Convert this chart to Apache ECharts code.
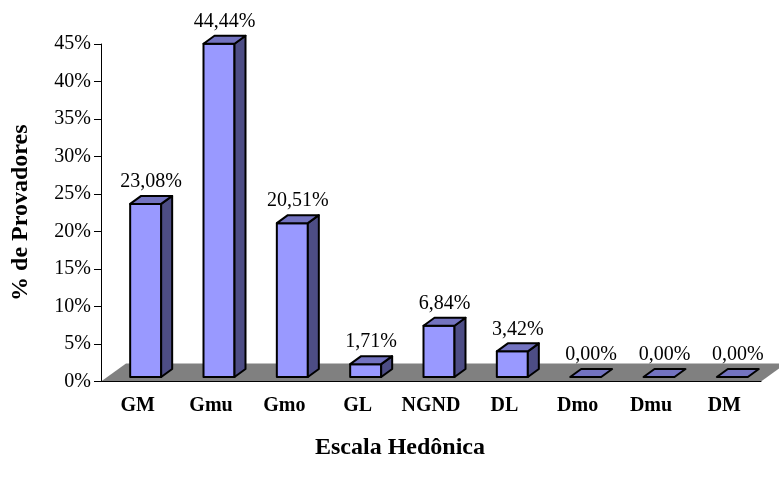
<!DOCTYPE html>
<html><head><meta charset="utf-8">
<script src="https://cdn.jsdelivr.net/npm/echarts@6/dist/echarts.min.js"></script>
<style>html,body{margin:0;padding:0;background:#fff}#c{width:779px;height:483px}</style>
</head><body><div id="c"></div>
<script>
const categories = ['GM','Gmu','Gmo','GL','NGND','DL','Dmo','Dmu','DM'];
const values = [23.08, 44.44, 20.51, 1.71, 6.84, 3.42, 0.00, 0.00, 0.00];
const yTicks = [0,5,10,15,20,25,30,35,40,45];

const FONT = '"Liberation Serif","Times New Roman",serif';
// pseudo-3D geometry (pixels)
const OX = 8, OY = -4.5;     // bar front-plane offset from axis plane
const BW = 31;               // bar front width
const DX = 11, DY = -8;      // bar depth
const FDX = 25, FDY = -18;   // floor depth

const chart = echarts.init(document.getElementById('c'));
function fmt(v){ return v.toFixed(2).replace('.', ',') + '%'; }

chart.setOption({
  animation: false,
  grid: {left: 101, right: 18, top: 44, bottom: 101.5},
  xAxis: {
    type: 'category', data: categories, boundaryGap: true,
    axisLine: {lineStyle: {color: '#000', width: 1}},
    axisTick: {length: 6, interval: 0, lineStyle: {color: '#000'}},
    axisLabel: {color: '#000', fontFamily: FONT, fontWeight: 'bold', fontSize: 20, margin: 14, interval: 0},
    z: 10
  },
  yAxis: {
    type: 'value', min: 0, max: 45, interval: 5,
    name: '% de Provadores', nameLocation: 'middle', nameGap: 68,
    nameTextStyle: {color: '#000', fontFamily: FONT, fontWeight: 'bold', fontSize: 24},
    axisLine: {show: true, lineStyle: {color: '#000'}},
    axisTick: {show: true, length: 7, lineStyle: {color: '#000'}},
    splitLine: {show: false},
    axisLabel: {color: '#000', fontFamily: FONT, fontSize: 20, margin: 10,
      formatter: v => yTicks.indexOf(v) >= 0 ? v + '%' : ''}
  },
  graphic: [{type: 'text', x: 400, y: 448,
    style: {text: 'Escala Hedônica', font: 'bold 24px ' + FONT, fill: '#000',
      textAlign: 'center', textVerticalAlign: 'middle'}}],
  series: [
    {
      type: 'custom', z: 1, clip: false,
      data: [[0, 0]], encode: {x: 0, y: 1},
      renderItem: function(params, api){
        const p = api.coord([0, 0]);
        const bw = api.size([1, 0])[0];
        const l = p[0] - bw / 2, r = l + bw * categories.length, y = p[1];
        return {type: 'polygon', shape: {points: [[l, y], [r, y], [r + FDX, y + FDY], [l + FDX, y + FDY]]},
          style: {fill: '#808080', stroke: null}};
      }
    },
    {
      type: 'custom', z: 5, clip: false,
      data: values.map((v, i) => [i, v]), encode: {x: 0, y: 1},
      renderItem: function(params, api){
        const i = api.value(0), v = api.value(1);
        const b = api.coord([i, 0]);
        const t = api.coord([i, v]);
        const x0 = b[0] + OX - BW / 2, x1 = x0 + BW;
        const yb = b[1] + OY, yt = t[1] + OY;
        const st = {stroke: '#000', lineWidth: 2, lineJoin: 'round'};
        const children = [];
        if (yb - yt > 0.5) {
          children.push({type: 'polygon', shape: {points: [[x0, yb], [x1, yb], [x1, yt], [x0, yt]]},
            style: Object.assign({fill: '#9999ff'}, st)});
          children.push({type: 'polygon', shape: {points: [[x1, yb], [x1 + DX, yb + DY], [x1 + DX, yt + DY], [x1, yt]]},
            style: Object.assign({fill: '#4d4d85'}, st)});
        }
        children.push({type: 'polygon', shape: {points: [[x0, yt], [x1, yt], [x1 + DX, yt + DY], [x0 + DX, yt + DY]]},
          style: Object.assign({fill: '#7373c0'}, st)});
        children.push({type: 'text', style: {text: fmt(v), x: x0 + (BW + DX) / 2, y: yt + DY - 4,
          textAlign: 'center', textVerticalAlign: 'bottom', font: '20px ' + FONT, fill: '#000'}});
        return {type: 'group', children: children};
      }
    }
  ]
});
</script></body></html>
